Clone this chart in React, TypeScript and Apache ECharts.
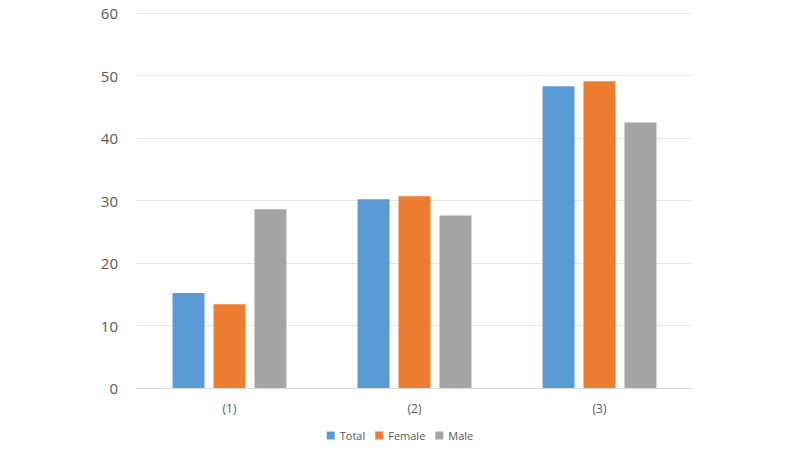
import React, { useEffect, useRef } from "react";
import * as echarts from "echarts";

const categories = ["(1)", "(2)", "(3)"];
const totalValues = [15.2, 30.2, 48.3];
const femaleValues = [13.4, 30.7, 49.1];
const maleValues = [28.6, 27.6, 42.5];
const seriesNames = ["Total", "Female", "Male"];
const colors = ["#5B9BD5", "#ED7D31", "#A5A5A5"];

export default function App() {
  const ref = useRef<HTMLDivElement>(null);
  useEffect(() => {
    const chart = echarts.init(ref.current!, null, { renderer: "svg" });
    const data = [totalValues, femaleValues, maleValues];
    chart.setOption({
      animation: false,
      backgroundColor: "#FFFFFF",
      textStyle: { fontFamily: "Open Sans" },
      grid: { left: 137, right: 108, top: 13, bottom: 62 },
      legend: {
        bottom: 4,
        left: "center",
        itemWidth: 8,
        itemHeight: 8,
        itemGap: 10,
        icon: "rect",
        textStyle: { fontSize: 11, color: "#595959", fontFamily: "Open Sans" },
        data: seriesNames,
      },
      xAxis: {
        type: "category",
        data: categories,
        axisLine: { lineStyle: { color: "#D9D9D9" } },
        axisTick: { show: false },
        axisLabel: { fontSize: 12, color: "#595959", margin: 14 },
      },
      yAxis: {
        type: "value",
        min: 0,
        max: 60,
        interval: 10,
        axisLine: { show: false },
        axisTick: { show: false },
        splitLine: { lineStyle: { color: "#E6E6E6" } },
        axisLabel: { fontSize: 15, color: "#595959", margin: 19 },
      },
      series: seriesNames.map((name, i) => ({
        name,
        type: "bar",
        data: data[i],
        barWidth: 32,
        barGap: "28%",
        itemStyle: { color: colors[i] },
      })),
    });
    return () => chart.dispose();
  }, []);
  return (
    <div
      ref={ref}
      style={{ position: "fixed", left: 0, top: 0, width: 800, height: 450 }}
    />
  );
}
